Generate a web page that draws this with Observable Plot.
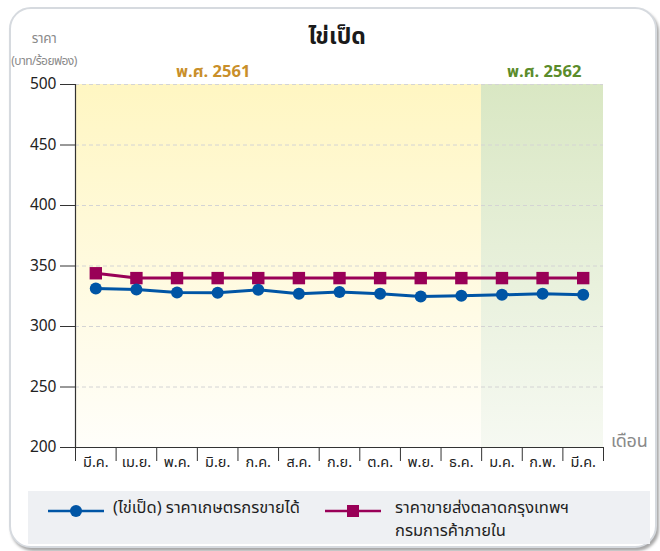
<!DOCTYPE html>
<html>
<head>
<meta charset="utf-8">
<script src="https://cdn.jsdelivr.net/npm/d3@7"></script>
<script src="https://cdn.jsdelivr.net/npm/@observablehq/plot@0.6"></script>
<style>
  html, body { margin: 0; padding: 0; background: #fff; }
  body { width: 660px; height: 551px; position: relative; overflow: hidden;
         font-family: "Noto Sans Thai", "Noto Sans", "DejaVu Sans", sans-serif; }
  #card { position: absolute; left: 9px; top: 7px; width: 644px; height: 537px;
          border: 2px solid #d6dadf; border-radius: 22px;
          box-shadow: 2px 3px 3px rgba(0,0,0,0.35); background: #fff; }
  #chart { position: absolute; left: 0; top: 0; }
  .abs { position: absolute; white-space: nowrap; }
  #title { left: 0; width: 674px; top: 20px; text-align: center; font-size: 23px; font-weight: bold; color: #1a1a1a; }
  .ylab { left: 4px; width: 80px; text-align: center; color: #8a8a8a; font-size: 11px; letter-spacing: -0.6px; }
  .year { font-size: 16.5px; font-weight: bold; }
  #xlab { left: 611px; top: 428px; font-size: 18px; color: #8a8a8a; letter-spacing: -0.3px; }
  #legend { position: absolute; left: 28px; top: 491px; width: 622px; height: 53px; background: #eef0f3; }
  .leg { position: absolute; font-size: 16.5px; color: #1f1f1f; line-height: 23px; }
</style>
</head>
<body>
<div id="card"></div>
<div id="chart"></div>
<div id="title" class="abs">ไข่เป็ด</div>
<div class="abs ylab" style="top:29px;font-size:13.5px;letter-spacing:-0.3px">ราคา</div>
<div class="abs ylab" style="top:52px;font-size:12px">(บาท/ร้อยฟอง)</div>
<div class="abs year" style="left:176px;top:59px;color:#c98f2a">พ.ศ. 2561</div>
<div class="abs year" style="left:507px;top:59px;color:#5b8c2b">พ.ศ. 2562</div>
<div id="xlab" class="abs">เดือน</div>
<div id="legend"></div>
<script>
// ---- data ----
const months = ["มี.ค.", "เม.ย.", "พ.ค.", "มิ.ย.", "ก.ค.", "ส.ค.", "ก.ย.", "ต.ค.", "พ.ย.", "ธ.ค.", "ม.ค.", "ก.พ.", "มี.ค."];
const monthYear = [2561, 2561, 2561, 2561, 2561, 2561, 2561, 2561, 2561, 2561, 2562, 2562, 2562];
const farmerPrice = [331.5, 330.6, 328.1, 327.8, 330.3, 327.0, 328.6, 327.0, 324.8, 325.4, 326.2, 327.0, 326.2];
const wholesalePrice = [344, 340, 340, 340, 340, 340, 340, 340, 340, 340, 340, 340, 340];
const yTicks = [200, 250, 300, 350, 400, 450, 500];
const seriesNames = ["(ไข่เป็ด) ราคาเกษตรกรขายได้", "ราคาขายส่งตลาดกรุงเทพฯ\nกรมการค้าภายใน"];
const colors = ["#0055a5", "#990057"];

// ---- derived tables ----
const rows = months.map((m, i) => ({ x: i + 0.5, month: m, farmer: farmerPrice[i], wholesale: wholesalePrice[i] }));
const years = Array.from(new Set(monthYear)).map(y => ({
  year: y,
  start: monthYear.indexOf(y),
  end: monthYear.lastIndexOf(y) + 1,
  grad: y === 2561 ? "url(#gy)" : "url(#gg)"
}));

const defs = () => {
  const g = d3.create("svg:g");
  const d = g.append("defs");
  const mk = (id, top, bottom) => {
    const lg = d.append("linearGradient").attr("id", id).attr("x1", 0).attr("y1", 0).attr("x2", 0).attr("y2", 1);
    lg.append("stop").attr("offset", "0%").attr("stop-color", top);
    lg.append("stop").attr("offset", "100%").attr("stop-color", bottom);
  };
  mk("gy", "#fff6c2", "#fffefa");
  mk("gg", "#d9e7c3", "#f6f9f2");
  return g.node();
};

const chart = Plot.plot({
  width: 660,
  height: 480,
  marginLeft: 75,
  marginRight: 57,
  marginTop: 84,
  marginBottom: 33,
  style: { fontFamily: '"Noto Sans Thai", "Noto Sans", "DejaVu Sans", sans-serif', color: "#222", background: "transparent", overflow: "visible" },
  x: { type: "linear", domain: [0, months.length], axis: null },
  y: { domain: [200, 500], axis: null },
  marks: [
    defs,
    Plot.rect(years, { x1: "start", x2: "end", y1: 200, y2: 500, fill: "grad", shapeRendering: "crispEdges" }),
    Plot.ruleY(yTicks.filter(t => t > 200), { stroke: "#d4d4d4", strokeDasharray: "4,3", strokeWidth: 1 }),
    Plot.axisY(yTicks, { tickSize: 15, tickPadding: 4, fontSize: 15.5, stroke: "#333" }),
    Plot.axisX(d3.range(months.length + 1), { tickSize: 14, tickFormat: () => "", stroke: "#333" }),
    Plot.axisX(rows.map(d => d.x), { tickSize: 0, tickPadding: 9, fontSize: 14.5, tickFormat: d => months[Math.floor(d)] }),
    Plot.ruleX([0], { stroke: "#333", strokeWidth: 1.2 }),
    Plot.ruleY([200], { stroke: "#333", strokeWidth: 1.2 }),
    Plot.line(rows, { x: "x", y: "wholesale", stroke: colors[1], strokeWidth: 3 }),
    Plot.dot(rows, { x: "x", y: "wholesale", symbol: "square", r: 7, fill: colors[1] }),
    Plot.line(rows, { x: "x", y: "farmer", stroke: colors[0], strokeWidth: 3 }),
    Plot.dot(rows, { x: "x", y: "farmer", r: 6, fill: colors[0] })
  ]
});
document.getElementById("chart").appendChild(chart);

// ---- legend ----
const legend = d3.select("#legend");
const items = [
  { sym: "circle", color: colors[0], text: seriesNames[0], lineX: 20, textX: 85 },
  { sym: "square", color: colors[1], text: seriesNames[1], lineX: 297, textX: 367 }
];
items.forEach(it => {
  const s = legend.append("svg").style("position", "absolute").style("left", it.lineX + "px").style("top", "8px")
    .attr("width", 56).attr("height", 24);
  s.append("line").attr("x1", 0).attr("x2", 56).attr("y1", 12).attr("y2", 12).attr("stroke", it.color).attr("stroke-width", 2.5);
  if (it.sym === "circle") s.append("circle").attr("cx", 28).attr("cy", 12).attr("r", 6).attr("fill", it.color);
  else s.append("rect").attr("x", 22).attr("y", 6).attr("width", 12).attr("height", 12).attr("fill", it.color);
  const t = legend.append("div").attr("class", "leg").style("left", it.textX + "px").style("top", "5px");
  it.text.split("\n").forEach(line => t.append("div").text(line));
});
</script>
</body>
</html>
